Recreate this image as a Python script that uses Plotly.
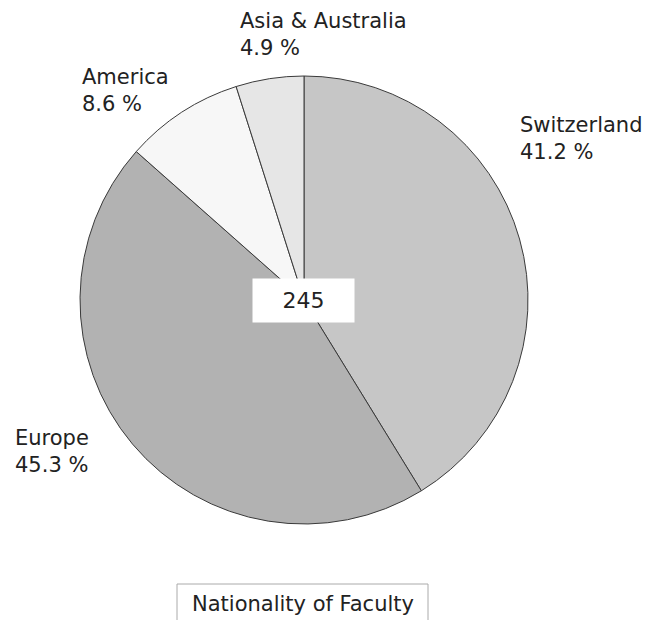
import plotly.graph_objects as go

categories = ["Switzerland", "Europe", "America", "Asia & Australia"]
counts = [101, 111, 21, 12]
colors = ["#c6c6c6", "#b2b2b2", "#f7f7f7", "#e6e6e6"]
title_text = "Nationality of Faculty"

W, H = 645, 620
OFF = 0  # body margin removed via post_script
total = sum(counts)
pcts = [round(100 * c / total, 1) for c in counts]

def px(x):
    return (x - OFF) / W

def py(y):
    return 1 - (y - OFF) / H

cx, cy, r = 304, 300, 224
fig = go.Figure(go.Pie(
    labels=categories, values=counts, sort=False, direction="clockwise", rotation=0,
    marker=dict(colors=colors, line=dict(color="#3a3a3a", width=1)),
    textinfo="none", hoverinfo="label+percent",
    domain=dict(x=[px(cx - r), px(cx + r)], y=[py(cy + r), py(cy - r)]),
))

label_pos = {
    "Switzerland": (518, 138),
    "Europe": (13, 451),
    "America": (80, 91),
    "Asia & Australia": (238, 35),
}
FF = "DejaVu Sans, Verdana, sans-serif"
font = dict(family=FF, size=21, color="#222222")
ann = []
for cat, p in zip(categories, pcts):
    x, y = label_pos[cat]
    ann.append(dict(x=px(x), y=py(y), xref="paper", yref="paper", xanchor="left", yanchor="middle",
                    align="left", showarrow=False, text=f"{cat}<br>{p} %", font=font))
ann.append(dict(x=px(303.5), y=py(300.5), xref="paper", yref="paper", showarrow=False,
                text=str(total), font=dict(family=FF, size=22, color="#222222"),
                bgcolor="white", borderpad=0, width=101, height=43))
ann.append(dict(x=px(303), y=py(590), xref="paper", yref="paper", yanchor="top", showarrow=False,
                text=title_text, font=dict(family=FF, size=21, color="#222222")))

fig.update_layout(
    width=W, height=H, margin=dict(l=0, r=0, t=0, b=0), showlegend=False,
    paper_bgcolor="white", plot_bgcolor="white", annotations=ann,
    shapes=[dict(type="rect", xref="paper", yref="paper", x0=px(177), x1=px(428),
                 y0=py(640), y1=py(584), line=dict(color="#aaaaaa", width=1), fillcolor="white", layer="below")],
)
fig.write_html("out.html", config={"displayModeBar": False},
               post_script="document.body.style.margin='0';document.body.style.overflow='hidden';")
